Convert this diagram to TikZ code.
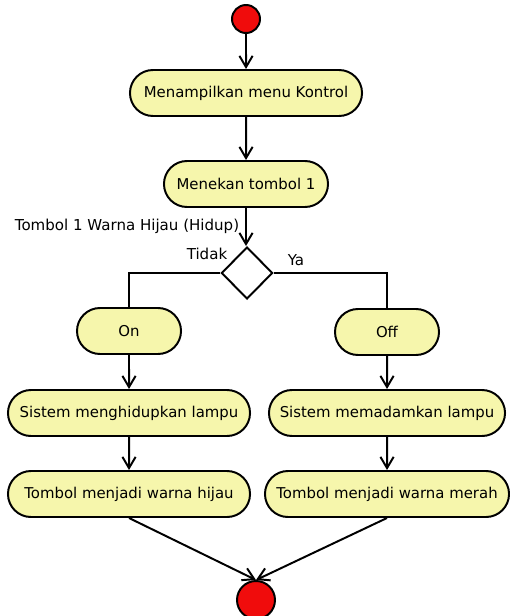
\documentclass[tikz,border=0pt]{standalone}
\usepackage{fontspec}
\setmainfont{DejaVu Sans}
\usetikzlibrary{shapes.misc,shapes.geometric,arrows.meta}
\definecolor{actfill}{RGB}{246,246,172}
\definecolor{dotred}{RGB}{240,12,12}

\begin{document}
\begin{tikzpicture}[x=0.025cm, y=-0.025cm, line width=1.4pt,
        act/.style={draw, rounded rectangle, fill=actfill, minimum height=1.15cm,
            inner xsep=0pt, font=\fontsize{10.6}{12}\selectfont},
        dot/.style={draw, circle, fill=dotred, inner sep=0pt},
        arr/.style={-{Straight Barb[length=2.8mm,width=3.3mm]}},
        lbl/.style={inner sep=0pt, font=\fontsize{10.7}{12}\selectfont}]

        \useasboundingbox (0,0) rectangle (509,616);

        \node[dot, minimum size=0.7cm] (start) at (246,19) {};
        \node[act, minimum width=5.8cm] (menu) at (246,93) {Menampilkan menu Kontrol};
        \node[act, minimum width=4.1cm] (tekan) at (246,184) {Menekan tombol 1};
        \node[diamond, draw, fill=white, inner sep=0pt, minimum width=1.28cm,
            minimum height=1.3cm] (cek) at (247,273) {};

        \node[act, minimum width=2.6cm] (on) at (129,331) {On};
        \node[act, minimum width=2.6cm] (off) at (387,332) {Off};
        \node[act, minimum width=6.05cm] (hidup) at (129,413) {Sistem menghidupkan lampu};
        \node[act, minimum width=5.9cm] (padam) at (387,413) {Sistem memadamkan lampu};
        \node[act, minimum width=6.05cm] (hijau) at (129,494) {Tombol menjadi warna hijau};
        \node[act, minimum width=6.1cm] (merah) at (387,494) {Tombol menjadi warna merah};
        \node[dot, minimum size=0.95cm] (stop) at (256,600) {};

        % guard dan cabang
        \node[lbl] (guard) at (127,226) {Tombol 1 Warna Hijau (Hidup)};
        \node[lbl] (tidak) at (207,254) {Tidak};
        \node[lbl] (ya) at (296,260) {Ya};

        \draw[arr] (start) -- (menu);
        \draw[arr] (menu) -- (tekan);
        \draw[arr] (tekan.south) -- (tekan.south |- cek.north);
        \draw (cek.west) -| (on);
        \draw (cek.east) -| (off);

        \draw[arr] (on) -- (hidup);
        \draw[arr] (off) -- (padam);
        \draw[arr] (hidup) -- (hijau);
        \draw[arr] (padam) -- (merah);
        \draw[arr] (hijau.south) -- (stop.north);
        \draw[arr] (merah.south) -- (stop.north);
    \end{tikzpicture}
\end{document}
